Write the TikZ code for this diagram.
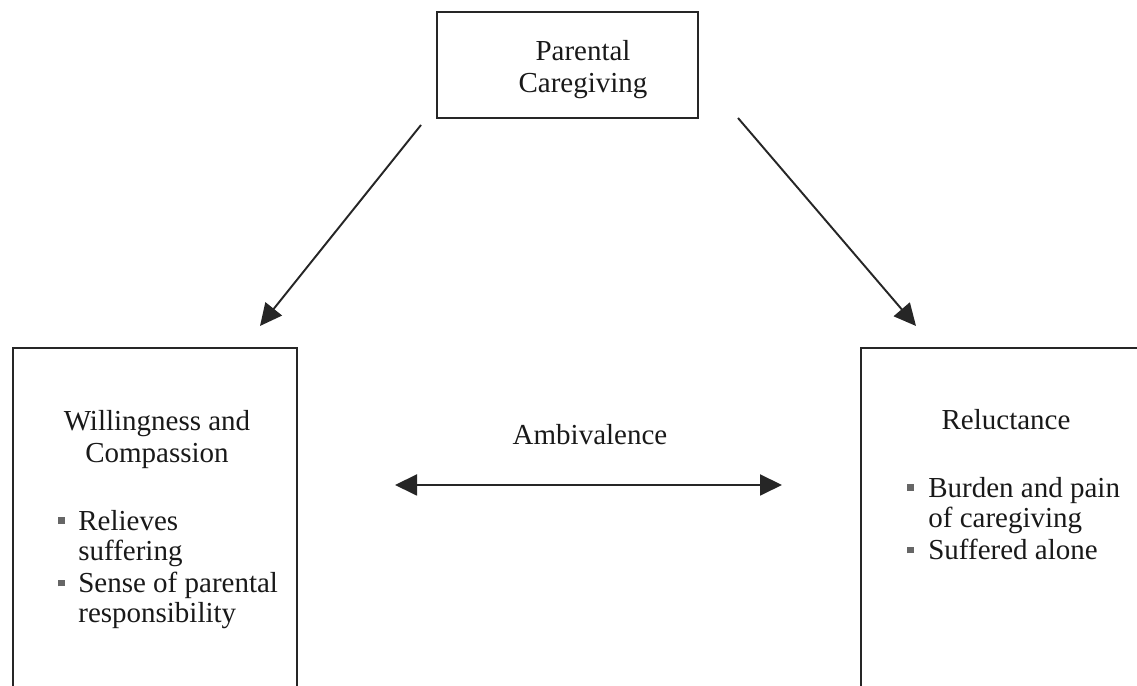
\documentclass[tikz,border=0pt]{standalone}
\usepackage{fontspec}
\setmainfont{Liberation Serif}
\usetikzlibrary{arrows.meta,positioning}
\newcommand{\sqb}{\textcolor{black!60}{\rule[3.8pt]{3.6pt}{3.6pt}}}

\begin{document}
\begin{tikzpicture}[x=1cm,y=1cm,>={Triangle[length=.44cm,width=.42cm]},
 b/.style={draw=black!85,line width=1.2pt,inner sep=0pt},
 t/.style={font=\fontsize{16.5}{18.5}\selectfont,text=black!90,inner sep=0pt,align=center},
 l/.style={t,align=left,font=\fontsize{16.5}{17}\selectfont},
 a/.style={->,line width=1.1pt,draw=black!85,fill=black!85}]
 \useasboundingbox (0,0) rectangle (22.74,13.72);
 \clip (0,0) rectangle (22.74,13.72);
 \node[b,minimum width=5.22cm,minimum height=2.12cm] (care) at (11.35,12.42) {};
 \node[b,minimum width=5.68cm,minimum height=7.26cm] (will) at (3.1,3.13) {};
 \node[b,minimum width=5.98cm,minimum height=7.26cm] (rel) at (20.21,3.13) {};
 \node[t,anchor=north] (caretxt) at (11.66,12.92) {Parental\\Caregiving};
 \node[t,anchor=north] (willtxt) at (3.14,5.52) {Willingness and\\Compassion};
 \node[t,anchor=base] (reltxt) at (20.12,5.12) {Reluctance};
 \node[t,anchor=base] (amb) at (11.8,4.82) {Ambivalence};
 \node[l,anchor=north west] (willlist) at (1.16,3.54) {\begin{tabular}{@{}p{.4cm}@{}l@{}}
  \sqb & Relieves\\ & suffering\\[1.7pt]
  \sqb & Sense of parental\\ & responsibility\end{tabular}};
 \node[l,anchor=north west] (rellist) at (18.14,4.2) {\begin{tabular}{@{}p{.42cm}@{}l@{}}
  \sqb & Burden and pain\\ & of caregiving\\[1.7pt]
  \sqb & Suffered alone\end{tabular}};
 \coordinate (c1) at (8.42,11.22);
 \coordinate (c2) at (5.2,7.2);
 \coordinate (c3) at (14.76,11.36);
 \coordinate (c4) at (18.32,7.2);
 \coordinate (m1) at (7.9,4.02);
 \coordinate (m2) at (15.64,4.02);
 \draw[a] (c1) -- (c2);
 \draw[a] (c3) -- (c4);
 \draw[a,<->] (m1) -- (m2);
\end{tikzpicture}
\end{document}
